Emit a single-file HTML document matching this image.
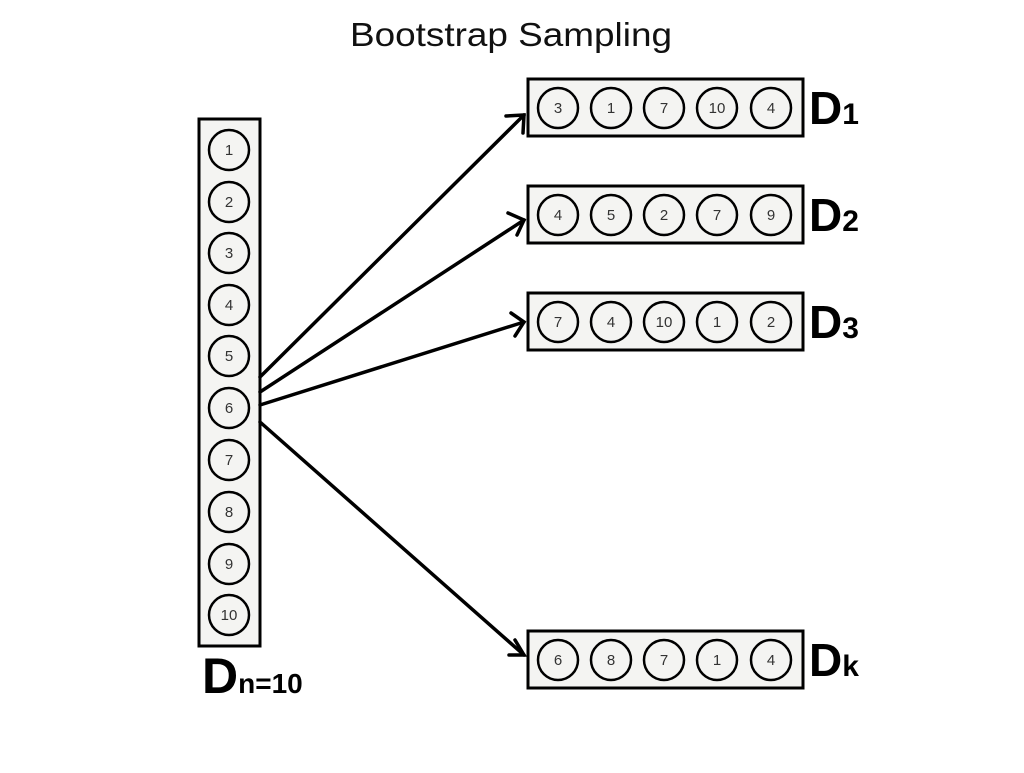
<!DOCTYPE html>
<html><head><meta charset="utf-8"><style>
html,body{margin:0;padding:0;background:#fff;}
</style></head><body>
<svg width="1024" height="768" viewBox="0 0 1024 768" xmlns="http://www.w3.org/2000/svg" font-family="Liberation Sans, sans-serif">
<rect width="1024" height="768" fill="#fff"/>
<text x="511" y="46" text-anchor="middle" font-size="33" fill="#111" textLength="322" lengthAdjust="spacingAndGlyphs">Bootstrap Sampling</text>
<rect x="199" y="119" width="61" height="527" fill="#f4f4f2" stroke="#000" stroke-width="3"/>
<g fill="#f4f4f2" stroke="#000" stroke-width="2.5">
<circle cx="229" cy="150" r="20"/><circle cx="229" cy="202" r="20"/><circle cx="229" cy="253" r="20"/><circle cx="229" cy="305" r="20"/><circle cx="229" cy="356" r="20"/><circle cx="229" cy="408" r="20"/><circle cx="229" cy="460" r="20"/><circle cx="229" cy="512" r="20"/><circle cx="229" cy="564" r="20"/><circle cx="229" cy="615" r="20"/>
</g>
<g font-size="15" text-anchor="middle" fill="#333">
<text x="229" y="155">1</text><text x="229" y="207">2</text><text x="229" y="258">3</text><text x="229" y="310">4</text><text x="229" y="361">5</text><text x="229" y="413">6</text><text x="229" y="465">7</text><text x="229" y="517">8</text><text x="229" y="569">9</text><text x="229" y="620">10</text>
</g>
<g stroke="#000" stroke-width="3.5" fill="none" stroke-linecap="round">
<line x1="260" y1="377" x2="524" y2="115"/><polyline points="506,116 524,115 523,133"/>
<line x1="260" y1="392" x2="524" y2="220"/><polyline points="508,213 524,220 517,235"/>
<line x1="260" y1="405" x2="524" y2="322"/><polyline points="511,313 524,322 515,336"/>
<line x1="260" y1="422" x2="524" y2="655"/><polyline points="515,640 524,655 509,655"/>
</g>
<g fill="#f4f4f2" stroke="#000" stroke-width="3">
<rect x="528" y="79" width="275" height="57"/><rect x="528" y="186" width="275" height="57"/><rect x="528" y="293" width="275" height="57"/><rect x="528" y="631" width="275" height="57"/>
</g>
<g fill="#f4f4f2" stroke="#000" stroke-width="2.5">
<circle cx="558" cy="108" r="20"/><circle cx="611" cy="108" r="20"/><circle cx="664" cy="108" r="20"/><circle cx="717" cy="108" r="20"/><circle cx="771" cy="108" r="20"/>
<circle cx="558" cy="215" r="20"/><circle cx="611" cy="215" r="20"/><circle cx="664" cy="215" r="20"/><circle cx="717" cy="215" r="20"/><circle cx="771" cy="215" r="20"/>
<circle cx="558" cy="322" r="20"/><circle cx="611" cy="322" r="20"/><circle cx="664" cy="322" r="20"/><circle cx="717" cy="322" r="20"/><circle cx="771" cy="322" r="20"/>
<circle cx="558" cy="660" r="20"/><circle cx="611" cy="660" r="20"/><circle cx="664" cy="660" r="20"/><circle cx="717" cy="660" r="20"/><circle cx="771" cy="660" r="20"/>
</g>
<g font-size="15" text-anchor="middle" fill="#333">
<text x="558" y="113">3</text><text x="611" y="113">1</text><text x="664" y="113">7</text><text x="717" y="113">10</text><text x="771" y="113">4</text>
<text x="558" y="220">4</text><text x="611" y="220">5</text><text x="664" y="220">2</text><text x="717" y="220">7</text><text x="771" y="220">9</text>
<text x="558" y="327">7</text><text x="611" y="327">4</text><text x="664" y="327">10</text><text x="717" y="327">1</text><text x="771" y="327">2</text>
<text x="558" y="665">6</text><text x="611" y="665">8</text><text x="664" y="665">7</text><text x="717" y="665">1</text><text x="771" y="665">4</text>
</g>
<g font-weight="bold" fill="#000">
<text x="809" y="124" font-size="46">D<tspan font-size="30">1</tspan></text>
<text x="809" y="231" font-size="46">D<tspan font-size="30">2</tspan></text>
<text x="809" y="338" font-size="46">D<tspan font-size="30">3</tspan></text>
<text x="809" y="676" font-size="46">D<tspan font-size="30">k</tspan></text>
<text x="202" y="693" font-size="50">D<tspan font-size="28">n=10</tspan></text>
</g>
</svg>
</body></html>
